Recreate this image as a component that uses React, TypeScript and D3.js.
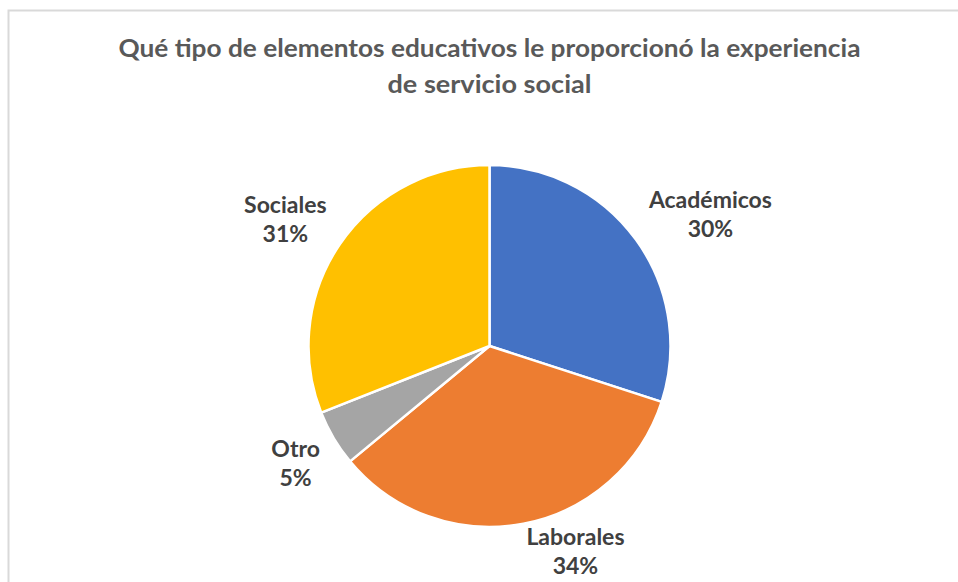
import React, { useMemo } from "react";
import * as d3 from "d3";

const categories = ["Académicos", "Laborales", "Otro", "Sociales"];
const values = [30, 34, 5, 31];
const colors = ["#4472C4", "#ED7D31", "#A5A5A5", "#FFC000"];
const titleLines = [
  "Qué tipo de elementos educativos le proporcionó la experiencia",
  "de servicio social",
];

const W = 958;
const H = 582;
const FONT = "Lato, 'Open Sans', sans-serif";

export default function App() {
  const cx = 489.5;
  const cy = 346;
  const R = 181;
  const labelSize = 23;
  const lineGap = 29;

  const measure = useMemo(() => {
    const c = document.createElement("canvas").getContext("2d")!;
    c.font = `bold ${labelSize}px Lato`;
    return (s: string) => c.measureText(s).width;
  }, []);

  const pie = d3
    .pie<number>()
    .sort(null)
    .value((d) => d);
  const arcs = pie(values);
  const arc = d3.arc<d3.PieArcDatum<number>>().innerRadius(0).outerRadius(R);
  const edge = d3.arc<d3.PieArcDatum<number>>().innerRadius(R).outerRadius(R);
  const total = d3.sum(values);

  return (
    <div style={{ position: "absolute", left: 0, top: 0 }}>
      <svg width={W} height={H} style={{ display: "block" }}>
        <rect x={0} y={0} width={W} height={H} fill="#fff" />
        <rect
          x={8.5}
          y={10.5}
          width={W + 20}
          height={H + 20}
          fill="#fff"
          stroke="#D9D9D9"
          strokeWidth={2}
        />
        <g fontFamily={FONT} fontWeight="bold" fill="#595959" fontSize={24} textAnchor="middle">
          <text x={cx} y={57} textLength={742} lengthAdjust="spacingAndGlyphs">
            {titleLines[0]}
          </text>
          <text x={cx} y={93} textLength={204} lengthAdjust="spacingAndGlyphs">
            {titleLines[1]}
          </text>
        </g>
        <g transform={`translate(${cx},${cy})`}>
          {arcs.map((a, i) => (
            <path
              key={categories[i]}
              d={arc(a) || ""}
              fill={colors[i]}
              stroke="#fff"
              strokeWidth={2.5}
              strokeLinejoin="round"
            />
          ))}
        </g>
        <g fontFamily={FONT} fontWeight="bold" fill="#404040" fontSize={labelSize} textAnchor="middle">
          {arcs.map((a, i) => {
            const [ex, ey] = edge.centroid(a);
            const mid = (a.startAngle + a.endAngle) / 2;
            const s = Math.sin(mid);
            const c = Math.cos(mid);
            const px = cx + ex + 16 * s;
            const py = cy + ey - 4 * c;
            const pct = `${Math.round((values[i] / total) * 100)}%`;
            const w = Math.max(measure(categories[i]), measure(pct));
            const tx = s >= 0 ? px + w / 2 : px - w / 2;
            const b1 = c >= 0 ? py - lineGap : py + 17;
            return (
              <g key={categories[i]}>
                <text x={tx} y={b1}>
                  {categories[i]}
                </text>
                <text x={tx} y={b1 + lineGap}>
                  {pct}
                </text>
              </g>
            );
          })}
        </g>
      </svg>
    </div>
  );
}
